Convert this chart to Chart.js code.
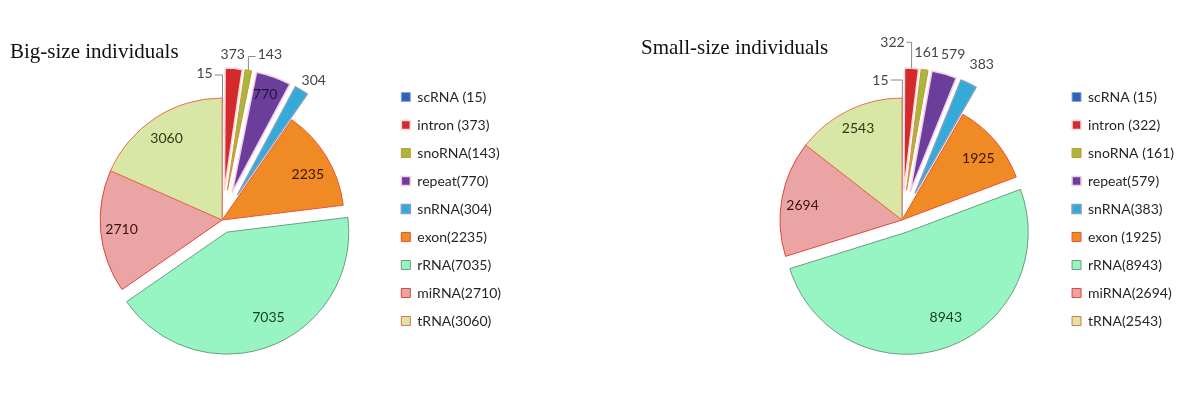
<!DOCTYPE html>
<html>
<head>
<meta charset="utf-8">
<script src="https://cdn.jsdelivr.net/npm/chart.js@4"></script>
<style>
  body { margin: 0; background: #fff; }
  .panel { position: absolute; top: 0; width: 600px; height: 405px; }
</style>
</head>
<body>
<div class="panel" style="left:0"><canvas id="big-chart" width="600" height="405"></canvas></div>
<div class="panel" style="left:600px"><canvas id="small-chart" width="600" height="405"></canvas></div>
<script>
// Read counts
var bigLabels = ["scRNA (15)", "intron (373)", "snoRNA(143)", "repeat(770)", "snRNA(304)", "exon(2235)", "rRNA(7035)", "miRNA(2710)", "tRNA(3060)"];
var bigCounts = [15, 373, 143, 770, 304, 2235, 7035, 2710, 3060];
var smallLabels = ["scRNA (15)", "intron (322)", "snoRNA (161)", "repeat(579)", "snRNA(383)", "exon (1925)", "rRNA(8943)", "miRNA(2694)", "tRNA(2543)"];
var smallCounts = [15, 322, 161, 579, 383, 1925, 8943, 2694, 2543];

// slice styling (same palette on both pies)
var sliceColors = ["#2E62B8", "#D42A2C", "#9EBD3A", "#6B3E9C", "#33AAD8", "#F08A24", "#97F5C3", "#EAA4A4", "#D8E6A6"];
var sliceBorders = ["#8BA6D6", "#F6DADA", "#E6863A", "#F2CCE4", "#7FA0C0", "#E8553A", "#6E9C80", "#E0453E", "#E8704E"];
var sliceBorderWidths = [1, 1.5, 1, 1.5, 1.5, 1, 1, 1, 1];
var explode = [0, 30, 30, 30, 30, 0, 13, 0, 0];
var labelInk = ["#404040", "#404040", "#404040", "#1d1240", "#404040", "#3a1400", "#153d22", "#3d1010", "#2e3a10"];

// Excel style explosion: shift the whole wedge out, keep its angle and radius
class ExplodedArc extends Chart.ArcElement {
  static id = "explodedArc";
  draw(ctx) {
    var o = this.options;
    var mid = (this.startAngle + this.endAngle) / 2;
    var push = o.offset || 0;
    var cx = this.x + Math.cos(mid) * push;
    var cy = this.y + Math.sin(mid) * push;
    ctx.save();
    ctx.beginPath();
    ctx.moveTo(cx, cy);
    ctx.arc(cx, cy, this.outerRadius, this.startAngle, this.endAngle);
    ctx.closePath();
    ctx.fillStyle = o.backgroundColor;
    ctx.fill();
    if (o.borderWidth) {
      ctx.lineWidth = o.borderWidth;
      ctx.strokeStyle = o.borderColor;
      ctx.lineJoin = "round";
      ctx.stroke();
    }
    ctx.restore();
  }
}
class ExplodedPie extends Chart.PieController {
  static id = "explodedPie";
  static defaults = { dataElementType: "explodedArc" };
}
Chart.register(ExplodedArc, ExplodedPie);

var panelTitle = {
  id: "panelTitle",
  afterDraw: function (chart, args, opts) {
    var ctx = chart.ctx;
    ctx.save();
    ctx.font = "21px 'Liberation Serif', 'Times New Roman', serif";
    ctx.fillStyle = "#111";
    ctx.textBaseline = "alphabetic";
    ctx.fillText(opts.text, opts.x, opts.y);
    ctx.restore();
  },
};

// value labels: inside slices or outside with an elbow leader
var sliceLabels = {
  id: "sliceLabels",
  afterDatasetsDraw: function (chart, args, opts) {
    var ctx = chart.ctx;
    var meta = chart.getDatasetMeta(0);
    var values = chart.data.datasets[0].data;
    ctx.save();
    ctx.textAlign = "center";
    ctx.textBaseline = "middle";
    meta.data.forEach(function (arc, i) {
      var mid = (arc.startAngle + arc.endAngle) / 2;
      var push = arc.options.offset || 0;
      var dx = Math.cos(mid), dy = Math.sin(mid);
      var cx = arc.x + dx * push, cy = arc.y + dy * push;
      var r = arc.outerRadius;
      var nudge = opts.nudge[i] || [0, 0];
      var text = String(values[i]);
      var lx, ly;
      if (opts.inside[i]) {
        lx = cx + dx * r * 0.82 + nudge[0];
        ly = cy + dy * r * 0.82 + nudge[1];
        ctx.font = "14px Lato";
        ctx.fillStyle = labelInk[i];
      } else {
        lx = cx + dx * (r + 14) + nudge[0];
        ly = cy + dy * (r + 14) + nudge[1];
        ctx.font = "14px Lato";
        ctx.fillStyle = "#454545";
        if (opts.leader[i]) {
          var tx = cx + dx * r, ty = cy + dy * r;
          var half = ctx.measureText(text).width / 2 + 2;
          var sx = tx > lx ? lx + half : lx - half;
          var hy = ly + (opts.leaderDy || 0);
          ctx.beginPath();
          ctx.moveTo(sx, hy);
          ctx.lineTo(tx, hy);
          ctx.lineTo(tx, ty);
          ctx.strokeStyle = "#8a8a8a";
          ctx.lineWidth = 1;
          ctx.stroke();
        }
      }
      ctx.fillText(text, lx, ly);
    });
    ctx.restore();
  },
};

function makePie(canvasId, labels, counts, pad, titleOpts, labelOpts) {
  var ctx = document.getElementById(canvasId).getContext("2d");
  return new Chart(ctx, {
    type: "explodedPie",
    data: {
      labels: labels,
      datasets: [
        {
          data: counts,
          backgroundColor: sliceColors,
          borderColor: sliceBorders,
          borderWidth: sliceBorderWidths,
          offset: explode,
          hoverOffset: 0,
        },
      ],
    },
    options: {
      responsive: false,
      animation: false,
      radius: 122,
      layout: { padding: pad },
      plugins: {
        tooltip: { enabled: false },
        legend: {
          position: "right",
          align: "start",
          labels: {
            font: { family: "Lato", size: 14 },
            color: "#262626",
            boxWidth: 9,
            boxHeight: 9,
            padding: 14,
          },
        },
        panelTitle: titleOpts,
        sliceLabels: labelOpts,
      },
    },
    plugins: [panelTitle, sliceLabels],
  });
}

document.addEventListener("DOMContentLoaded", function () {
  makePie(
    "big-chart",
    bigLabels,
    bigCounts,
    { top: 76, bottom: 41, left: 57, right: 89 },
    { text: "Big-size individuals", x: 10, y: 58 },
    {
      inside: [false, false, false, true, false, true, true, true, true],
      leader: [true, false, true, false, false, false, false, false, false],
      nudge: [[-18, -11], [-2, 0], [19, -2], [-1, -3], [5, 2], [0, 6], [6, -8], [-1, 0], [-1, 2]],
      leaderDy: 2,
    }
  );
  makePie(
    "small-chart",
    smallLabels,
    smallCounts,
    { top: 76, bottom: 41, left: 146, right: 16 },
    { text: "Small-size individuals", x: 41, y: 54 },
    {
      inside: [false, false, false, false, false, true, true, true, true],
      leader: [true, true, false, false, false, false, false, false, false],
      nudge: [[-22, -4], [-20, -12], [0, -3], [5, -6], [7, -6], [0, 3], [7, -9], [-1, 3], [0, -2]],
      leaderDy: 0,
    }
  );
});
</script>
</body>
</html>
